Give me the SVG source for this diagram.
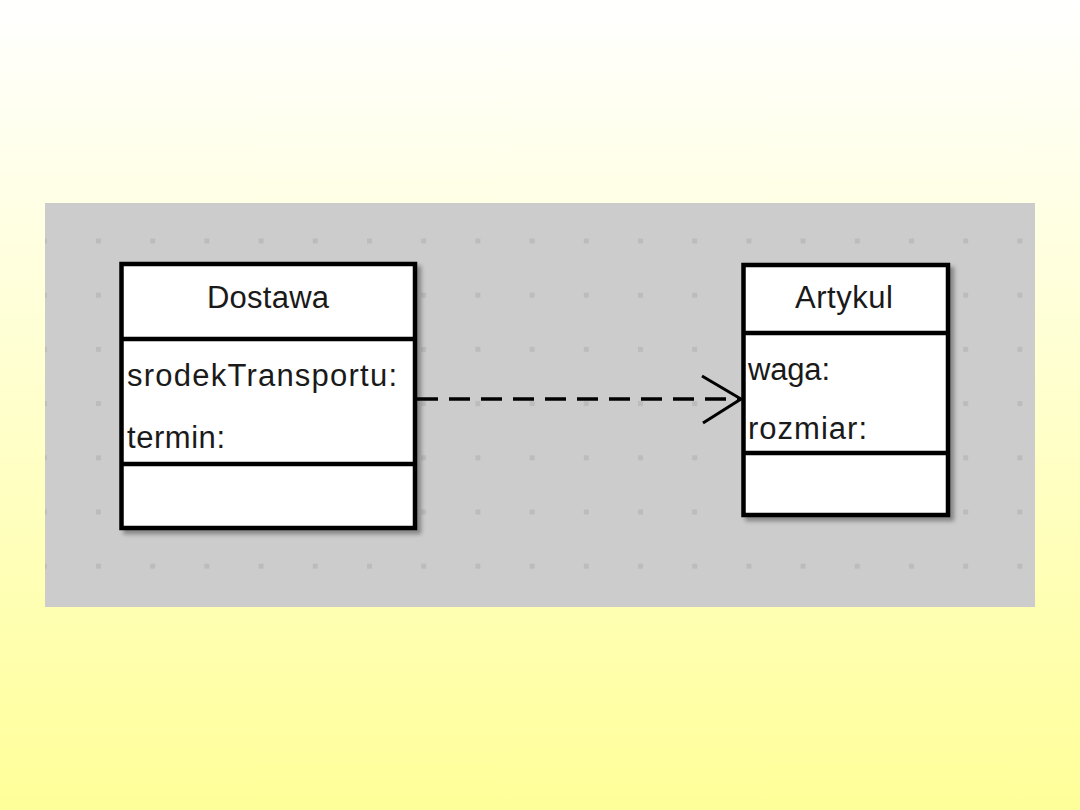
<svg xmlns="http://www.w3.org/2000/svg" width="1080" height="810" viewBox="0 0 1080 810">
  <defs>
    <linearGradient id="bg" x1="0" y1="0" x2="0" y2="1">
      <stop offset="0" stop-color="#ffffff"/>
      <stop offset="1" stop-color="#ffff99"/>
    </linearGradient>
    <pattern id="dots" patternUnits="userSpaceOnUse" x="41.8" y="238.5" width="54.2" height="54.2">
      <rect x="0" y="0" width="5" height="5" fill="#bcbcbc"/>
    </pattern>
    <filter id="shadow" x="-10%" y="-10%" width="130%" height="130%">
      <feGaussianBlur in="SourceAlpha" stdDeviation="2"/>
      <feOffset dx="4" dy="4" result="b"/>
      <feComponentTransfer><feFuncA type="linear" slope="0.35"/></feComponentTransfer>
      <feMerge><feMergeNode/><feMergeNode in="SourceGraphic"/></feMerge>
    </filter>
    <style>
      .box { fill: #ffffff; stroke: #000; stroke-width: 4.5; }
      .div { stroke: #000; stroke-width: 4.5; }
      .t { font-family: "Liberation Sans", Arial, sans-serif; font-size: 31px; fill: #1a1a1a; }
      .title { text-anchor: middle; }
      .conn { fill: none; stroke: #000; }
    </style>
  </defs>

  <rect x="0" y="0" width="1080" height="810" fill="url(#bg)"/>
  <rect x="45" y="203" width="990" height="404" fill="#cccccc"/>
  <rect x="45" y="203" width="990" height="404" fill="url(#dots)"/>

  <g id="Dostawa">
    <rect class="box" x="121.5" y="264" width="293.5" height="264" filter="url(#shadow)"/>
    <line class="div" x1="121.5" y1="339" x2="415" y2="339"/>
    <line class="div" x1="121.5" y1="464" x2="415" y2="464"/>
    <text class="t title" x="268" y="308" textLength="122" lengthAdjust="spacing">Dostawa</text>
    <text class="t" x="127" y="386" textLength="270" lengthAdjust="spacing">srodekTransportu:</text>
    <text class="t" x="127" y="448" textLength="98" lengthAdjust="spacing">termin:</text>
  </g>

  <g id="Artykul">
    <rect class="box" x="743.5" y="265" width="204.5" height="250" filter="url(#shadow)"/>
    <line class="div" x1="743.5" y1="333" x2="948" y2="333"/>
    <line class="div" x1="743.5" y1="453" x2="948" y2="453"/>
    <text class="t title" x="844" y="308" textLength="98" lengthAdjust="spacing">Artykul</text>
    <text class="t" x="748" y="380" textLength="82" lengthAdjust="spacing">waga:</text>
    <text class="t" x="748" y="439" textLength="119" lengthAdjust="spacing">rozmiar:</text>
  </g>

  <g id="connectors">
    <line class="conn" x1="417" y1="399" x2="741" y2="399" stroke-width="3.5" stroke-dasharray="21 11"/>
    <path class="conn" d="M702,376 L741,399 L703,423" stroke-width="3"/>
  </g>
</svg>
